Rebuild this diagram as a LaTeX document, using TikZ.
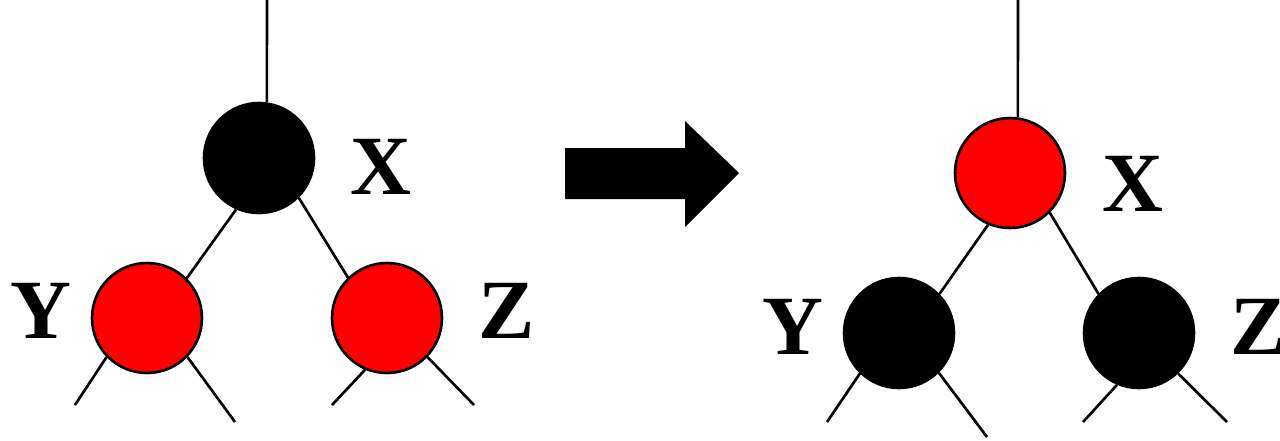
\documentclass[tikz,border=0pt]{standalone}
\usepackage{fontspec}
\setmainfont{Liberation Serif}
\definecolor{nodered}{HTML}{FF0000}
\tikzset{>=latex}
\tikzset{
	rbnode/.style = {circle, draw = black, line width = 1.5pt, inner sep = 0pt, minimum size = 2.2cm},
	rednode/.style = {rbnode, fill = nodered},
	blacknode/.style = {rbnode, fill = black},
	keylabel/.style = {inner sep = 0pt, font = \fontsize{48}{48}\selectfont\bfseries},
	edge/.style = {line width = 1.5pt}
}

\begin{document}
\begin{tikzpicture}[x = 0.02cm, y = -0.02cm]
\useasboundingbox (0,0) rectangle (1280,440);

% before recolouring
\node[blacknode] (x1) at (259,158) {};
\node[rednode] (y1) at (147,318) {};
\node[rednode] (z1) at (387,318) {};
\node[keylabel] (lx1) at (381,167) {X};
\node[keylabel] (ly1) at (41,311) {Y};
\node[keylabel] (lz1) at (507,311) {Z};

% after recolouring
\node[rednode] (x2) at (1010,173) {};
\node[blacknode] (y2) at (899,333) {};
\node[blacknode] (z2) at (1139,333) {};
\node[keylabel] (lx2) at (1133,184) {X};
\node[keylabel] (ly2) at (793,327) {Y};
\node[keylabel] (lz2) at (1259,327) {Z};

\coordinate (top1) at (267,0);
\coordinate (top2) at (1018,0);
\draw[edge] (x1.82) -- (top1);
\draw[edge] (x2.82) -- (top2);

\draw[edge] (x1.246) -- (y1.45);
\draw[edge] (x1.-45) -- (z1.134);
\draw[edge] (x2.247) -- (y2.44);
\draw[edge] (x2.-45) -- (z2.136);

\foreach \p/\a/\x/\y in {y1/224/75/405, y1/-44/235/422, z1/247/332/405, z1/-44/474/405,
		y2/226/827/422, y2/-45/987/437, z2/247/1083/422, z2/-46/1227/422} {
	\coordinate (\p-\a) at (\x,\y);
	\draw[edge] (\p.\a) -- (\p-\a);
}

\fill (565,148) -- (685,148) -- (685,121) -- (739,173) -- (685,227) -- (685,199) -- (565,199) -- cycle;

\end{tikzpicture}
\end{document}
